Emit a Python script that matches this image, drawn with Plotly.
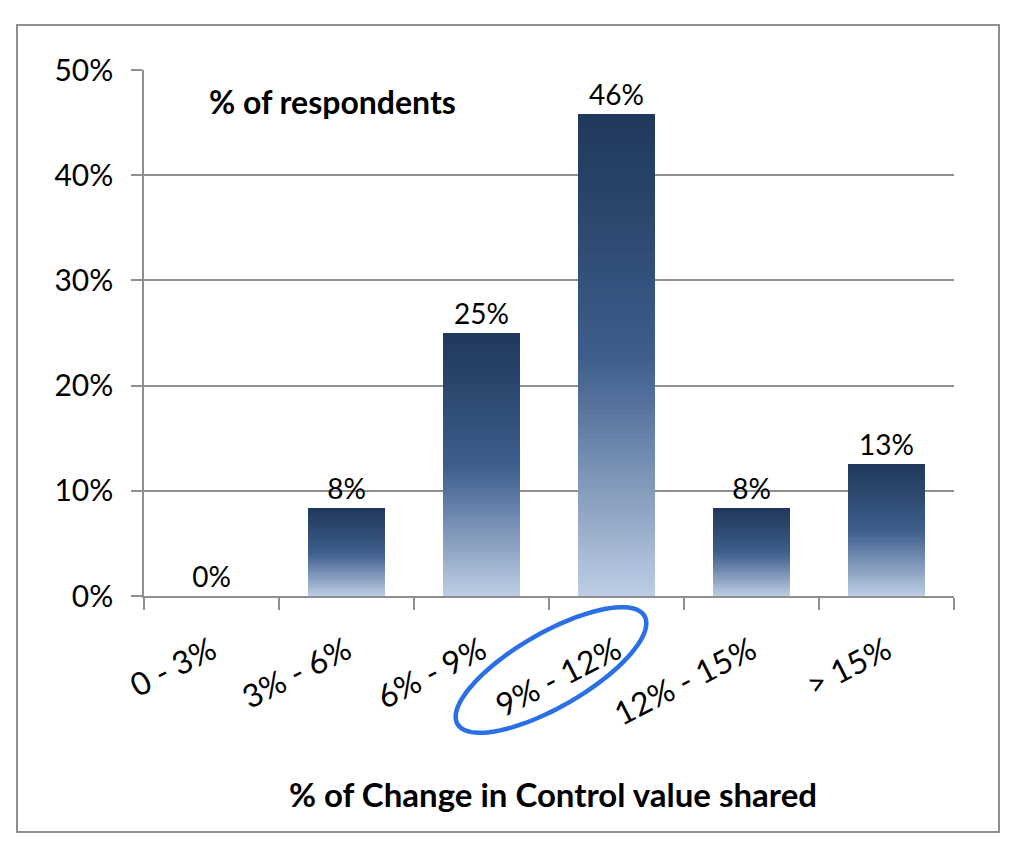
import numpy as np
import plotly.graph_objects as go

categories = ["0 - 3%", "3% - 6%", "6% - 9%", "9% - 12%", "12% - 15%", "> 15%"]
values = [0.0, 0.0833, 0.25, 0.4583, 0.0833, 0.1255]
y_ticks = [0, 0.1, 0.2, 0.3, 0.4, 0.5]

# gradient (fraction from bar bottom -> colour)
grad_pos = [0.0, 0.1, 0.2, 0.3, 0.4, 0.5, 0.75, 1.0]
grad_col = ["#bdcde5", "#a4b7d3", "#8aa0c0", "#6f8ab0", "#55729c", "#3d5e8b", "#2d4a72", "#21385c"]

OFF = 8  # page body margin
W, H = 1024 - 2 * OFF, 854 - 2 * OFF
X0, X1, Y0, Y1 = 144 - OFF, 954 - OFF, 70 - OFF, 596 - OFF  # plot area in figure px
L, R, T, B = X0, W - X1, Y0, H - Y1
PW, PH = X1 - X0, Y1 - Y0


def hex2rgb(h):
    h = h.lstrip("#")
    return np.array([int(h[i:i + 2], 16) for i in (0, 2, 4)], dtype=float)


RGBS = np.array([hex2rgb(c) for c in grad_col])


def grad_color(f):
    r, g, b = (np.interp(f, grad_pos, RGBS[:, i]) for i in range(3))
    return f"rgb({r:.0f},{g:.0f},{b:.0f})"


fig = go.Figure()
N = 80
bw = 0.57
vals = np.array(values)
for k in range(N):
    col = grad_color((k + 0.5) / N)
    # each layer runs from its start up to the bar top; later layers cover earlier ones
    fig.add_trace(go.Bar(
        x=categories, y=vals * (1 - k / N), base=vals * k / N, width=bw,
        marker=dict(color=col, line=dict(width=0)),
        hoverinfo="skip", showlegend=False,
    ))

# labels trace
fig.add_trace(go.Bar(
    x=categories, y=values, width=bw,
    marker=dict(color="rgba(0,0,0,0)", line=dict(width=0)),
    text=[f"{int(v * 100 + 0.5)}%" for v in values], textposition="outside",
    textfont=dict(family="Lato", size=28, color="black"),
    cliponaxis=False, showlegend=False,
    hovertemplate="%{x}: %{y:.0%}<extra></extra>",
))


def px2paper(px, py):
    # px, py given in reference (window) pixels
    return (px - OFF - X0) / PW, (Y1 - (py - OFF)) / PH


# ellipse around "9% - 12%"
cx, cy, a, b, th = 551, 670, 108, 37, np.deg2rad(30)
t = np.linspace(0, 2 * np.pi, 90)
ex = cx + a * np.cos(t) * np.cos(th) - b * np.sin(t) * np.sin(th)
ey = cy - (a * np.cos(t) * np.sin(th) + b * np.sin(t) * np.cos(th))
pts = [px2paper(x, y) for x, y in zip(ex, ey)]
path = "M " + " L ".join(f"{x:.5f},{y:.5f}" for x, y in pts) + " Z"

bx0, by0 = px2paper(17, 832)
bx1, by1 = px2paper(999, 25)

fig.update_layout(
    width=W, height=H,
    margin=dict(l=L, r=R, t=T, b=B, autoexpand=False),
    paper_bgcolor="white", plot_bgcolor="white",
    barmode="overlay", bargap=0,
    font=dict(family="Lato", color="black"),
    showlegend=False,
    shapes=[
        dict(type="rect", xref="paper", yref="paper", x0=bx0, y0=by0, x1=bx1, y1=by1,
             line=dict(color="#8f8f8f", width=2), fillcolor="rgba(0,0,0,0)", layer="below"),
        dict(type="path", xref="paper", yref="paper", path=path,
             line=dict(color="#2b6fe6", width=4.5), fillcolor="rgba(0,0,0,0)"),
    ],
    annotations=[
        dict(text="<b>% of respondents</b>", xref="paper", yref="paper",
             x=px2paper(207, 0)[0], y=px2paper(0, 102)[1], xanchor="left", yanchor="middle",
             showarrow=False, font=dict(family="Lato", size=32, color="black")),
        dict(text="<b>% of Change in Control value shared</b>", xref="paper", yref="paper",
             x=px2paper(553, 0)[0], y=px2paper(0, 794)[1], xanchor="center", yanchor="middle",
             showarrow=False, font=dict(family="Lato", size=33, color="black")),
    ],
)

fig.update_xaxes(
    type="category", categoryorder="array", categoryarray=categories,
    range=[-0.5, len(categories) - 0.5],
    tickson="boundaries", ticks="outside", ticklen=12, tickwidth=1.5, tickcolor="#8f8f8f",
    showline=True, linecolor="#8f8f8f", linewidth=1.5,
    showgrid=False, tickangle=-27, ticklabelstandoff=22,
    tickfont=dict(family="Lato", size=32, color="black"),
)
fig.update_yaxes(
    range=[0, 0.5], tickvals=y_ticks, tickformat=".0%",
    ticks="outside", ticklen=11, tickwidth=1.5, tickcolor="#8f8f8f",
    showline=True, linecolor="#8f8f8f", linewidth=1.5,
    showgrid=True, gridcolor="#8f8f8f", gridwidth=1.5, zeroline=False,
    tickfont=dict(family="Lato", size=30, color="black"), ticklabelstandoff=12,
)

fig.write_html("out.html")
